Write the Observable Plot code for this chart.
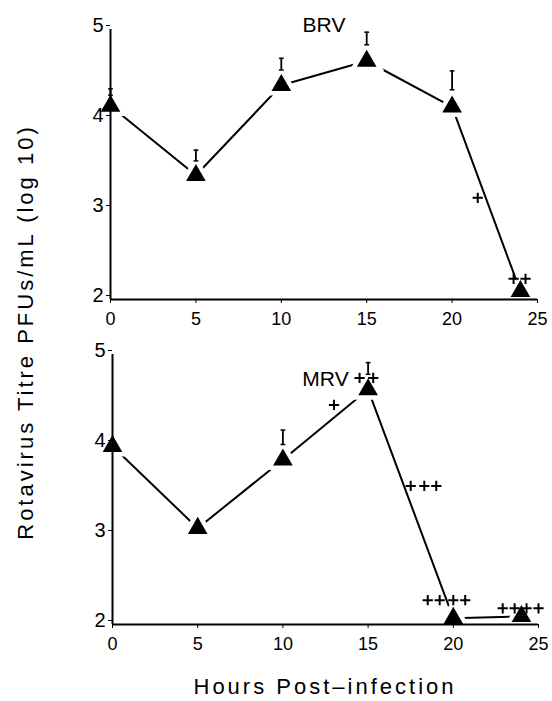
<!DOCTYPE html>
<html>
<head>
<meta charset="utf-8">
<script src="https://cdn.jsdelivr.net/npm/d3@7"></script>
<script src="https://cdn.jsdelivr.net/npm/@observablehq/plot@0.6"></script>
<style>
  html, body { margin: 0; padding: 0; background: white; }
  #wrap { position: relative; width: 552px; height: 701px; overflow: hidden; font-family: "Liberation Sans", Arial, sans-serif; }
  #top, #bottom { position: absolute; left: 0; }
  #top { top: 0; }
  #bottom { top: 330px; }
  .ttl { position: absolute; font-size: 22px; letter-spacing: 3px; white-space: nowrap; line-height: 22px; color: black; }
  #xtitle { left: 325px; top: 676px; transform: translateX(-50%); }
  #ytitle { left: 26px; top: 332px; transform: translate(-50%, -50%) rotate(-90deg); }
</style>
</head>
<body>
<div id="wrap">
  <div id="top"></div>
  <div id="bottom"></div>
  <div class="ttl" id="ytitle">Rotavirus Titre PFUs/mL (log 10)</div>
  <div class="ttl" id="xtitle">Hours Post–infection</div>
</div>
<script>
// ---- data ----
const hours = [0, 5, 10, 15, 20, 24];
const brv = [4.15, 3.38, 4.38, 4.65, 4.14, 2.09];
const mrv = [3.98, 3.07, 3.83, 4.61, 2.07, 2.09];

const brvErrX = [0, 5, 10, 15, 20];
const brvErrLo = [4.27, 3.54, 4.55, 4.83, 4.33];
const brvErrHi = [4.34, 3.66, 4.68, 4.97, 4.54];

const mrvErrX = [10, 15];
const mrvErrLo = [4.0, 4.78];
const mrvErrHi = [4.16, 4.91];

const brvPlusX = [21.5, 23.6, 24.3];
const brvPlusY = [3.13, 2.23, 2.23];

const mrvPlusX = [13.0, 14.5, 15.3, 17.5, 18.3, 19.0, 18.5, 19.2, 20.0, 20.7, 22.9, 23.6, 24.3, 25.0];
const mrvPlusY = [4.44, 4.74, 4.74, 3.54, 3.54, 3.54, 2.27, 2.27, 2.27, 2.27, 2.18, 2.18, 2.18, 2.18];

const xTicks = [0, 5, 10, 15, 20, 25];
const yTicks = [2, 3, 4, 5];
const titles = ["BRV", "MRV"];

// horizontal cap symbol for error bars
const capSymbol = {
  draw(context, size) {
    const r = Math.sqrt(size / Math.PI);
    context.moveTo(-r, 0);
    context.lineTo(r, 0);
  }
};

function panel({values, errX, errLo, errHi, plusX, plusY, title, marginTop, marginBottom, marginLeft, marginRight, height, titleDy}) {
  const pts = hours.map((h, i) => ({x: h, y: values[i]}));
  const errs = errX.map((x, i) => ({x, lo: errLo[i], hi: errHi[i]}));
  const plus = plusX.map((x, i) => ({x, y: plusY[i]}));
  return Plot.plot({
    width: 552,
    height,
    marginTop, marginBottom, marginLeft, marginRight,
    style: {fontFamily: '"Liberation Sans", Arial, sans-serif', color: "black", background: "transparent", overflow: "visible"},
    x: {domain: [0, 25]},
    y: {domain: [2, 5]},
    marks: [
      Plot.line(pts, {x: "x", y: "y", stroke: "black", strokeWidth: 2}),
      Plot.dot(pts, {x: "x", y: "y", symbol: "triangle", r: 13, fill: "white", stroke: "none"}),
      Plot.dot(pts, {x: "x", y: "y", symbol: "triangle", r: 7.3, fill: "black", stroke: "none"}),
      Plot.ruleX(errs, {x: "x", y1: "lo", y2: "hi", stroke: "black", strokeWidth: 1.8}),
      Plot.dot(errs, {x: "x", y: "hi", symbol: capSymbol, r: 2.4, fill: "none", stroke: "black", strokeWidth: 1.5}),
      Plot.dot(errs, {x: "x", y: "lo", symbol: capSymbol, r: 2.4, fill: "none", stroke: "black", strokeWidth: 1.5}),
      Plot.dot(plus, {x: "x", y: "y", symbol: "plus", r: 3.4, fill: "none", stroke: "black", strokeWidth: 2}),
      Plot.ruleX([0], {stroke: "black", strokeWidth: 2}),
      Plot.ruleY([2], {stroke: "black", strokeWidth: 2}),
      Plot.axisX({ticks: xTicks, tickSize: 4, tickPadding: 9, fontSize: 18, label: null, tickFormat: d => String(d)}),
      Plot.axisY({ticks: yTicks, tickSize: 4, tickPadding: 3, fontSize: 20, label: null, dy: -4, tickFormat: d => String(d)}),
      Plot.text([title], {frameAnchor: "top", dy: titleDy, text: d => d, fontSize: 21, fill: "black"})
    ]
  });
}

document.getElementById("top").appendChild(panel({
  values: brv, errX: brvErrX, errLo: brvErrLo, errHi: brvErrHi,
  plusX: brvPlusX, plusY: brvPlusY, title: titles[0],
  marginTop: 29, marginBottom: 31, marginLeft: 110, marginRight: 15, height: 330, titleDy: -12
}));

document.getElementById("bottom").appendChild(panel({
  values: mrv, errX: mrvErrX, errLo: mrvErrLo, errHi: mrvErrHi,
  plusX: mrvPlusX, plusY: mrvPlusY, title: titles[1],
  marginTop: 24, marginBottom: 46, marginLeft: 112, marginRight: 14, height: 340, titleDy: 17
}));
</script>
</body>
</html>
